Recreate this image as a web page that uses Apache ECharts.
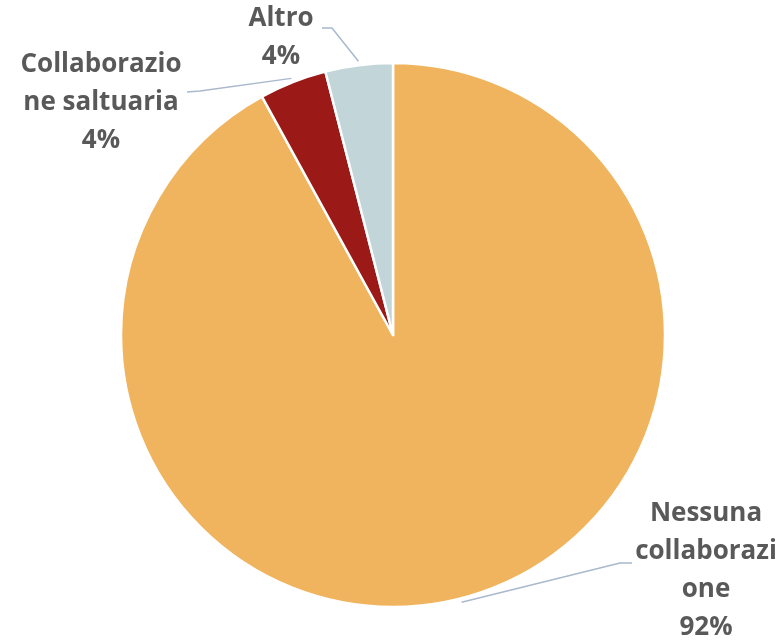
<!DOCTYPE html>
<html>
<head>
<meta charset="utf-8">
<script src="https://cdn.jsdelivr.net/npm/echarts@6/dist/echarts.min.js"></script>
<style>
  html, body { margin: 0; padding: 0; background: #fff; }
  #chart { width: 781px; height: 642px; }
</style>
</head>
<body>
<div id="chart"></div>
<script>
var categories = ['Nessuna collaborazione', 'Collaborazione saltuaria', 'Altro'];
var values = [92, 4, 4];
var labelTexts = ['Nessuna\ncollaborazi\none', 'Collaborazio\nne saltuaria', 'Altro'];
var colors = ['#F0B45E', '#9B1916', '#C2D5D9'];

// where each label block sits, and where its leader line bends / ends
var labelSpots = [
  {x: 706, y: 571, bend: [620, 563], end: [632, 563]},
  {x: 101, y: 103, bend: [200, 91], end: [187, 92]},
  {x: 281, y: 38, bend: [332, 28], end: [322, 28]}
];

var center = [393, 335];
var radius = 272;

// point just outside the rim at the middle of slice i (clockwise from 12 o'clock)
function rimPoint(i) {
  var total = values.reduce(function(a, b) { return a + b; }, 0);
  var before = 0;
  for (var k = 0; k < i; k++) before += values[k];
  var ang = (before + values[i] / 2) / total * Math.PI * 2;
  var r = radius + 4;
  return [center[0] + Math.sin(ang) * r, center[1] - Math.cos(ang) * r];
}

var chart = echarts.init(document.getElementById('chart'));
chart.setOption({
  animation: false,
  series: [{
    type: 'pie',
    center: center,
    radius: radius,
    startAngle: 90,
    clockwise: true,
    itemStyle: {borderColor: '#fff', borderWidth: 2.5},
    label: {
      show: true,
      position: 'outside',
      fontFamily: 'Open Sans',
      fontWeight: 'bold',
      fontSize: 26,
      lineHeight: 38,
      color: '#595959',
      align: 'center',
      formatter: function(p) {
        return labelTexts[p.dataIndex] + '\n' + p.value + '%';
      }
    },
    labelLine: {show: true, lineStyle: {color: '#A9B8CC', width: 1.5}},
    labelLayout: function(p) {
      var s = labelSpots[p.dataIndex];
      return {
        x: s.x, y: s.y, align: 'center', verticalAlign: 'middle',
        labelLinePoints: [rimPoint(p.dataIndex), s.bend, s.end]
      };
    },
    data: categories.map(function(name, i) {
      return {name: name, value: values[i], itemStyle: {color: colors[i]}};
    })
  }]
});
</script>
</body>
</html>
